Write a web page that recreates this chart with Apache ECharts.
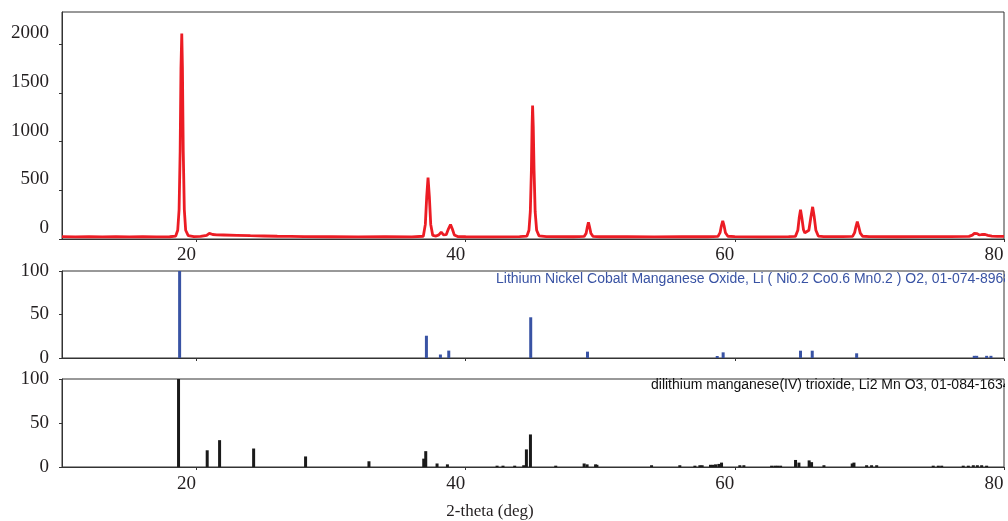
<!DOCTYPE html>
<html>
<head>
<meta charset="utf-8">
<script src="https://cdn.jsdelivr.net/npm/echarts@6/dist/echarts.min.js"></script>
<style>
  html, body { margin: 0; padding: 0; background: #fff; }
  #chart { width: 1008px; height: 521px; }
</style>
</head>
<body>
<div id="chart"></div>
<script>
// Measured diffraction profile: [2-theta (deg), counts]
const profile = [
  [10, 24], [11, 22], [12, 25], [13, 21], [14, 23], [15, 22], [16, 24], [17, 21], [18, 23],
  [18.45, 30], [18.6, 90], [18.7, 300], [18.78, 900], [18.84, 1750], [18.9, 2110], [18.95, 1750],
  [19.01, 900], [19.09, 300], [19.19, 90], [19.38, 34], [19.8, 25], [20.3, 26],
  [20.75, 38], [20.95, 58], [21.05, 62], [21.2, 46], [21.5, 42], [22, 41], [23, 38], [24, 34],
  [25, 31], [26, 28], [27, 26], [28, 24], [30, 23], [32, 22], [34, 24], [36, 22],
  [36.85, 28], [37.0, 150], [37.1, 430], [37.2, 630], [37.3, 430], [37.4, 150], [37.55, 36],
  [37.8, 30], [38.0, 42], [38.18, 70], [38.35, 42], [38.55, 44], [38.72, 105], [38.87, 148],
  [39.0, 105], [39.15, 42], [39.4, 25], [40, 23], [42, 22], [44, 24],
  [44.55, 30], [44.7, 90], [44.8, 280], [44.88, 700], [44.93, 1150], [44.97, 1370], [45.02, 1150],
  [45.08, 700], [45.16, 280], [45.27, 90], [45.45, 32], [46, 24], [48, 23],
  [48.8, 26], [48.95, 60], [49.04, 125], [49.12, 172], [49.2, 125], [49.3, 60], [49.45, 28],
  [50, 23], [52, 24], [54, 22], [56, 24], [58, 23],
  [58.75, 26], [58.9, 65], [59.0, 135], [59.1, 185], [59.2, 135], [59.3, 65], [59.48, 28],
  [60, 24], [62, 22], [64, 24],
  [64.5, 27], [64.68, 90], [64.78, 215], [64.88, 300], [64.98, 215], [65.1, 95], [65.2, 62],
  [65.33, 42], [65.5, 90], [65.65, 225], [65.78, 330], [65.9, 225], [66.02, 90], [66.2, 30],
  [66.6, 25], [68, 24],
  [68.75, 26], [68.9, 65], [69.0, 128], [69.1, 178], [69.2, 128], [69.32, 60], [69.5, 28],
  [70, 24], [72, 23], [74, 25], [76, 24],
  [77.4, 27], [77.65, 40], [77.8, 58], [77.9, 66], [78.0, 56], [78.15, 42], [78.3, 44],
  [78.45, 48], [78.6, 46], [78.8, 37], [79.1, 30], [79.5, 27], [80, 26]
];

// Reference stick pattern: Li(Ni0.2Co0.6Mn0.2)O2, 01-074-8968
const nmcTheta = [18.74, 37.08, 38.12, 38.74, 44.83, 49.05, 58.69, 59.13, 64.88, 65.75, 69.05, 77.79, 77.97, 78.71, 79.03];
const nmcIntensity = [100, 25.6, 4, 8.5, 46.8, 7.3, 2.3, 6.5, 8.4, 8.4, 5.4, 2.5, 2.5, 2.5, 2.5];

// Reference stick pattern: Li2MnO3, 01-084-1634
const lmoTheta = [
  18.66, 20.79, 21.71, 24.24, 28.1, 32.81, 36.88, 37.03, 37.87, 38.64,
  42.33, 42.77, 43.64, 44.31, 44.51, 44.81, 46.69, 48.8, 49.02, 49.65, 49.75,
  53.81, 55.91, 57.03, 57.4, 57.57, 58.19, 58.39, 58.57, 58.81, 59.01,
  60.37, 60.67, 62.73, 62.97, 63.17, 63.4, 64.51, 64.76, 65.52, 65.7, 66.62,
  68.72, 68.85, 69.79, 70.16, 70.54, 74.74, 75.12, 75.37, 76.97, 77.35, 77.72, 78.02, 78.34, 78.71
];
const lmoIntensity = [
  100, 19, 30.5, 21, 12, 6.5, 9.5, 18, 4, 3,
  1.5, 1.5, 1.5, 2, 20, 37, 1.5, 4, 3, 3, 2.5,
  2, 2, 1.5, 2, 2, 2.5, 2.5, 3, 3.5, 5,
  2, 2, 1.5, 1.5, 1.5, 1.5, 8, 5, 7.5, 5.5, 2,
  4, 5, 2, 2, 2, 1.5, 1.5, 1.5, 1.5, 1.5, 2, 2, 2, 1.5
];

const xTicks = [20, 40, 60, 80];
const countTicks = [0, 500, 1000, 1500, 2000];
const relTicks = [0, 50, 100];

const nmcLabel = 'Lithium Nickel Cobalt Manganese Oxide, Li ( Ni0.2 Co0.6 Mn0.2 ) O2, 01-074-8968';
const lmoLabel = 'dilithium manganese(IV) trioxide, Li2 Mn O3, 01-084-1634';
const xTitle = '2-theta (deg)';

const serif = 'Liberation Serif, DejaVu Serif, serif';
const textColor = '#231f20';
const lineColor = '#333';

function xAxisFor(gridIndex, showLabels, margin) {
  return {
    type: 'value', gridIndex: gridIndex, min: 10, max: 80,
    axisLine: { show: true, onZero: false, lineStyle: { color: lineColor, width: 1 } },
    axisTick: { show: true, customValues: xTicks, length: 3, lineStyle: { color: lineColor } },
    axisLabel: {
      show: showLabels, customValues: xTicks, margin: margin,
      fontFamily: serif, fontSize: 19, color: textColor, padding: [0, 20, 0, 0],
      formatter: v => String(v)
    },
    splitLine: { show: false }
  };
}

function yAxisFor(gridIndex, max, ticks, raised) {
  const label = {
    customValues: ticks, margin: 13,
    fontFamily: serif, fontSize: 19, color: textColor,
    formatter: v => String(v)
  };
  if (raised) {
    label.verticalAlign = 'bottom';
    label.lineHeight = 22;
  }
  return {
    type: 'value', gridIndex: gridIndex, min: 0, max: max,
    axisLine: { show: true, lineStyle: { color: lineColor, width: 1 } },
    axisTick: { show: true, customValues: ticks, length: 3, lineStyle: { color: lineColor } },
    axisLabel: label,
    splitLine: { show: false }
  };
}

const chart = echarts.init(document.getElementById('chart'), null, { renderer: 'canvas' });

chart.setOption({
  animation: false,
  backgroundColor: '#fff',
  grid: [
    { left: 62, top: 12, width: 942, height: 227, show: true, borderColor: lineColor, borderWidth: 1 },
    { left: 62, top: 271, width: 942, height: 87, show: true, borderColor: lineColor, borderWidth: 1 },
    { left: 62, top: 379, width: 942, height: 88, show: true, borderColor: lineColor, borderWidth: 1 }
  ],
  xAxis: [xAxisFor(0, true, 7), xAxisFor(1, false, 7), xAxisFor(2, true, 8)],
  yAxis: [
    yAxisFor(0, 2330, countTicks, true),
    yAxisFor(1, 100, relTicks, false),
    yAxisFor(2, 100, relTicks, false)
  ],
  series: [
    {
      type: 'line', xAxisIndex: 0, yAxisIndex: 0,
      data: profile, showSymbol: false, symbol: 'none',
      lineStyle: { color: '#ec1c24', width: 2.8 },
      z: 3
    },
    {
      type: 'bar', xAxisIndex: 1, yAxisIndex: 1,
      data: nmcTheta.map((t, i) => [t, nmcIntensity[i]]),
      barWidth: 3, itemStyle: { color: '#3953a4' }
    },
    {
      type: 'bar', xAxisIndex: 2, yAxisIndex: 2,
      data: lmoTheta.map((t, i) => [t, lmoIntensity[i]]),
      barWidth: 3, itemStyle: { color: '#1a1a1a' }
    }
  ],
  graphic: [
    {
      type: 'text', left: 496, top: 272, z: 10,
      style: { text: nmcLabel, fontFamily: 'Liberation Sans, Arial, sans-serif', fontSize: 14, fill: '#3953a4' }
    },
    {
      type: 'text', left: 651, top: 378, z: 10,
      style: { text: lmoLabel, fontFamily: 'Liberation Sans, Arial, sans-serif', fontSize: 14, fill: '#111' }
    },
    {
      // keeps the panel captions inside the right frame edge
      type: 'rect', shape: { x: 1005, y: 262, width: 20, height: 140 }, z: 20,
      style: { fill: '#fff' }
    },
    {
      type: 'text', x: 490, y: 512, z: 10,
      style: {
        text: xTitle, fontFamily: serif, fontSize: 17, fill: textColor,
        align: 'center', verticalAlign: 'middle'
      }
    }
  ]
});
</script>
</body>
</html>
